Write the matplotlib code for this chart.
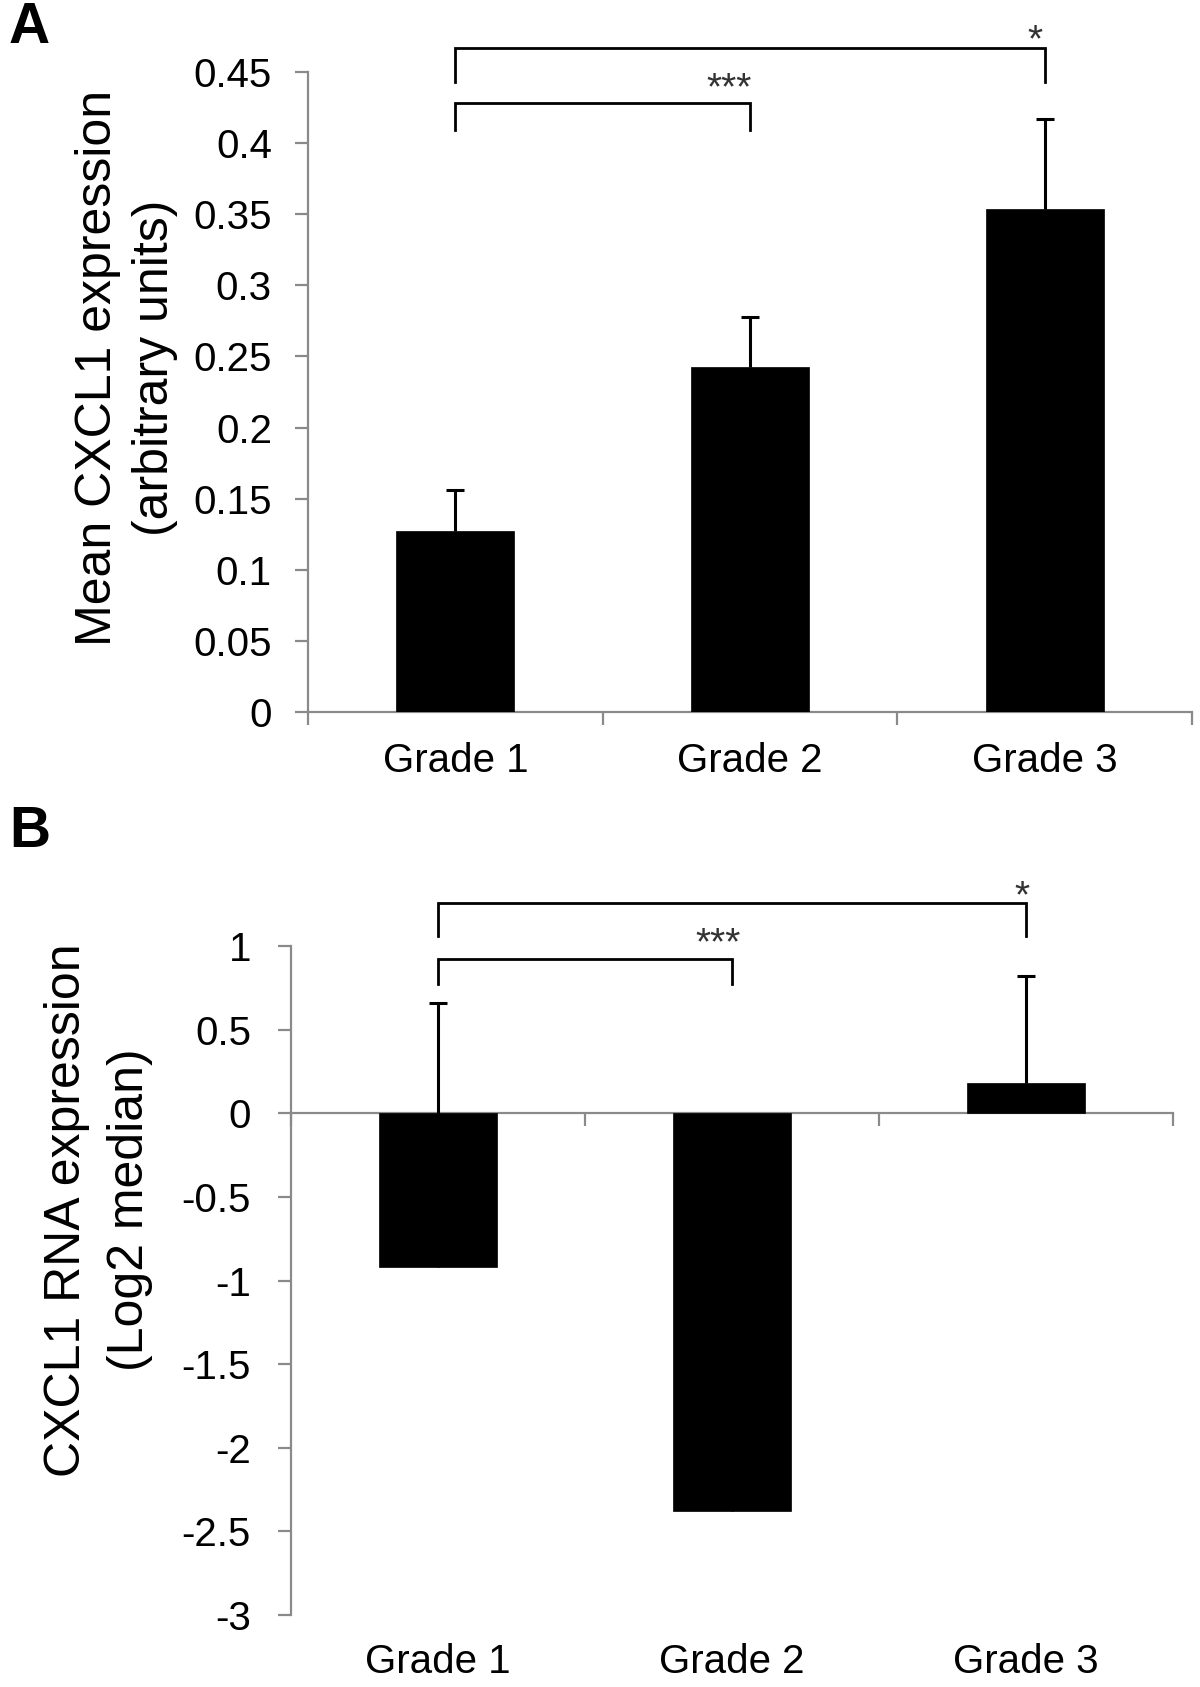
import matplotlib
matplotlib.use('Agg')
import matplotlib.pyplot as plt
import numpy as np

plt.rcParams['font.family'] = ['Liberation Sans', 'DejaVu Sans']

# ---------------- data ----------------
categories = ['Grade 1', 'Grade 2', 'Grade 3']

# Panel A
a_means = [0.1275, 0.2426, 0.354]
a_err_up = [0.0285, 0.0352, 0.063]
a_yticks = [0, 0.05, 0.1, 0.15, 0.2, 0.25, 0.3, 0.35, 0.4, 0.45]
a_yticklabels = ['0', '0.05', '0.1', '0.15', '0.2', '0.25', '0.3', '0.35', '0.4', '0.45']
a_ylabel = ['Mean CXCL1 expression', '(arbitrary units)']
a_sig_pairs = [(0, 2), (0, 1)]
a_sig_labels = ['*', '***']
a_sig_top = [0.467, 0.428]
a_sig_drop = [0.443, 0.409]
a_sig_text_x = [1.967, 0.93]
a_sig_text_y = [0.480, 0.4466]

# Panel B
b_means = [-0.92, -2.38, 0.18]
b_err_up = [1.58, 1.5, 0.64]
b_yticks = [1, 0.5, 0, -0.5, -1, -1.5, -2, -2.5, -3]
b_yticklabels = ['1', '0.5', '0', '-0.5', '-1', '-1.5', '-2', '-2.5', '-3']
b_ylabel = ['CXCL1 RNA expression', '(Log2 median)']
b_sig_pairs = [(0, 2), (0, 1)]
b_sig_labels = ['*', '***']
b_sig_top = [1.256, 0.923]
b_sig_drop = [1.062, 0.774]
b_sig_text_x = [1.986, 0.952]
b_sig_text_y = [1.363, 1.083]

# ---------------- figure ----------------
W, H = 1200, 1687
fig = plt.figure(figsize=(W / 100, H / 100), dpi=100)
PX = 0.72  # points per pixel at 100 dpi
GRAY = '#8a8a8a'


def panel(rect_px, means, err_up, ylim, yticks, yticklabels, label_base,
          label_off_px, tick_pad_px, sig_pairs, sig_labels, sig_top, sig_drop,
          sig_tx, sig_ty, zero_spine):
    l, t, r, b = rect_px
    ax = fig.add_axes([l / W, 1 - b / H, (r - l) / W, (b - t) / H])
    x = np.arange(len(categories))
    eb = ax.errorbar(x, means, yerr=[np.zeros(len(means)), err_up], fmt='none',
                     ecolor='black', elinewidth=2.2, capsize=6.2, capthick=2.2,
                     zorder=1, clip_on=False)
    # hide the lower caps (only the upper error is shown)
    caplines = eb[1]
    if len(caplines) >= 2:
        caplines[0].set_visible(False)
    ax.bar(x, means, width=0.40, color='black', edgecolor='black',
           linewidth=0.5, zorder=2)
    ax.set_xlim(-0.5, 2.5)
    ax.set_ylim(*ylim)
    for s in ['top', 'right']:
        ax.spines[s].set_visible(False)
    for s in ['left', 'bottom']:
        ax.spines[s].set_color(GRAY)
        ax.spines[s].set_linewidth(1.6)
        ax.spines[s].set_zorder(0)
    if zero_spine:
        ax.spines['bottom'].set_position(('data', 0))
    ax.set_yticks(yticks)
    ax.set_yticklabels(yticklabels, fontsize=29)
    ax.tick_params(axis='y', direction='out', length=9.4, width=1.6,
                   color=GRAY, pad=tick_pad_px * PX)
    ax.set_xticks([-0.5, 0.5, 1.5, 2.5])
    ax.set_xticklabels([])
    ax.tick_params(axis='x', direction='out', length=9.4, width=1.6,
                   color=GRAY)
    for i, c in enumerate(categories):
        ax.annotate(c, xy=(i, label_base), xycoords='data',
                    xytext=(0, -label_off_px * PX), textcoords='offset points',
                    ha='center', va='baseline', fontsize=29,
                    annotation_clip=False)
    for (i0, i1), lab, top, drop, tx, ty in zip(sig_pairs, sig_labels,
                                                 sig_top, sig_drop, sig_tx, sig_ty):
        ax.plot([i0, i0, i1, i1], [drop, top, top, drop], color='black',
                lw=2.0, clip_on=False, solid_joinstyle='miter', zorder=3)
        ax.annotate(lab, xy=(tx, ty), xycoords='data',
                    xytext=(0, -22 * PX), textcoords='offset points',
                    ha='center', va='baseline', fontsize=28, color='#333333',
                    annotation_clip=False)
    return ax


axA = panel((308, 72, 1192, 712), a_means, a_err_up, (0, 0.45), a_yticks,
            a_yticklabels, 0, 60, 23, a_sig_pairs, a_sig_labels, a_sig_top,
            a_sig_drop, a_sig_text_x, a_sig_text_y, False)
axB = panel((291, 946, 1173, 1615), b_means, b_err_up, (-3, 1), b_yticks,
            b_yticklabels, -3, 58, 27, b_sig_pairs, b_sig_labels, b_sig_top,
            b_sig_drop, b_sig_text_x, b_sig_text_y, True)

# y-axis labels (two lines each)
def ylab(lines, xs_px, yc_px):
    for txt, xp in zip(lines, xs_px):
        fig.text(xp / W, 1 - yc_px / H, txt, rotation=90, rotation_mode='anchor',
                 ha='center', va='baseline', fontsize=36)

ylab(a_ylabel, [111, 168], 368)
ylab(b_ylabel, [80, 143], 1210)

# panel letters
fig.text(9 / W, 1 - 43 / H, 'A', fontsize=41, fontweight='bold',
         ha='left', va='baseline')
fig.text(9 / W, 1 - 847 / H, 'B', fontsize=41, fontweight='bold',
         ha='left', va='baseline')

fig.savefig('out.png', dpi=100, facecolor='white')
